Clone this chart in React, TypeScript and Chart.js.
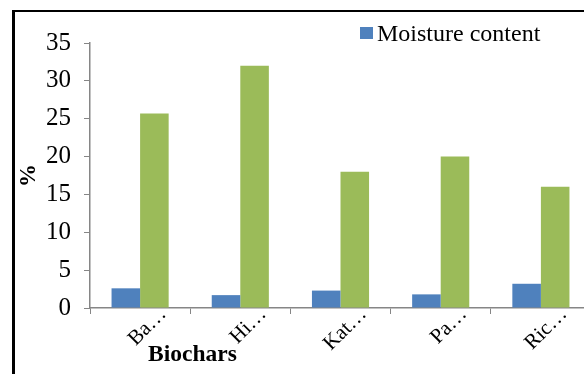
import React, { useEffect, useRef } from 'react';
import { Chart, registerables } from 'chart.js';

Chart.register(...registerables);

// ---- data ----
const categories = ['Ba…', 'Hi…', 'Kat…', 'Pa…', 'Ric…'];
const moistureContent = [2.6, 1.7, 2.3, 1.8, 3.2];
const secondSeries = [25.7, 32, 18, 20, 16];
const legendLabel = 'Moisture content';
const secondLabel = 'Yield';
const xTitle = 'Biochars';
const yTitle = '%';
const yMin = 0;
const yMax = 35;
const yStep = 5;

// ---- styles ----
const FONT = "'Liberation Serif', 'Times New Roman', serif";
const BLUE = '#4F81BD';
const GREEN = '#9BBB59';
const AXIS = '#868686';

const overlayPlugin = {
  id: 'overlay',
  afterDraw(chart: any) {
    const ctx = chart.ctx;
    ctx.save();
    // legend (only first series is shown in the reference)
    ctx.fillStyle = BLUE;
    ctx.fillRect(360, 27, 13, 12);
    ctx.fillStyle = '#000';
    ctx.font = `24px ${FONT}`;
    ctx.textAlign = 'left';
    ctx.textBaseline = 'alphabetic';
    ctx.fillText(chart.data.datasets[0].label, 377, 41);
    // x-axis title
    ctx.font = `bold 23.5px ${FONT}`;
    ctx.textAlign = 'center';
    ctx.fillText(xTitle, 192.5, 361);
    ctx.restore();
  },
};

export default function App() {
  const ref = useRef<HTMLCanvasElement | null>(null);

  useEffect(() => {
    if (!ref.current) return;
    Chart.defaults.font.family = FONT;
    const chart = new Chart(ref.current, {
      type: 'bar',
      data: {
        labels: categories,
        datasets: [
          { label: legendLabel, data: moistureContent, backgroundColor: BLUE, borderWidth: 0 },
          { label: secondLabel, data: secondSeries, backgroundColor: GREEN, borderWidth: 0 },
        ],
      },
      options: {
        animation: false,
        responsive: false,
        maintainAspectRatio: false,
        devicePixelRatio: 1,
        layout: { padding: { left: 14, top: 43, right: 9, bottom: 0 } },
        datasets: { bar: { categoryPercentage: 0.57, barPercentage: 1 } },
        plugins: { legend: { display: false }, tooltip: { enabled: false }, title: { display: false } },
        scales: {
          x: {
            ticks: {
              minRotation: 45,
              maxRotation: 45,
              autoSkip: false,
              color: '#000',
              font: { size: 21 },
              padding: -12,
              labelOffset: 23,
            },
            grid: { offset: true, drawOnChartArea: false, drawTicks: true, tickLength: 6, color: AXIS },
            border: { color: AXIS, width: 1.5 },
            afterFit(scale: any) {
              scale.height = 66;
            },
          },
          y: {
            min: yMin,
            max: yMax,
            ticks: { stepSize: yStep, padding: 13, color: '#000', font: { size: 25 } },
            grid: { drawOnChartArea: false, drawTicks: true, tickLength: 6, color: AXIS },
            border: { color: AXIS, width: 1.5 },
            title: {
              display: true,
              text: yTitle,
              color: '#000',
              font: { size: 23, weight: 'bold' },
              padding: { top: 1, bottom: 0 },
            },
            afterFit(scale: any) {
              scale.width = 76;
            },
          },
        },
      },
      plugins: [overlayPlugin],
    } as any);
    return () => chart.destroy();
  }, []);

  return (
    <div
      style={{
        position: 'fixed',
        left: 0,
        top: 0,
        width: 584,
        height: 374,
        overflow: 'hidden',
        background: '#fff',
      }}
    >
      <canvas ref={ref} width={600} height={374} style={{ position: 'absolute', left: 0, top: 0 }} />
      <div
        style={{
          position: 'absolute',
          left: 12,
          top: 10,
          width: 700,
          height: 500,
          borderLeft: '3px solid #000',
          borderTop: '2px solid #000',
          pointerEvents: 'none',
        }}
      />
    </div>
  );
}
